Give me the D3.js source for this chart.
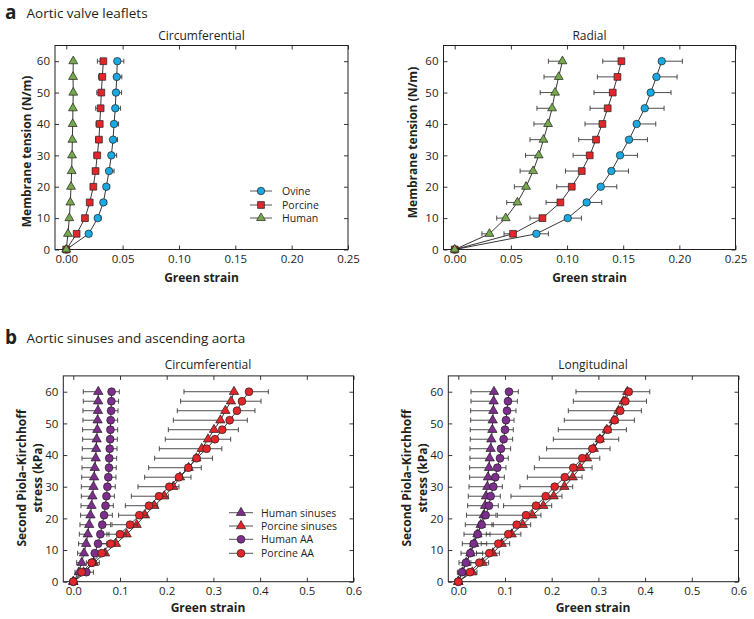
<!DOCTYPE html>
<html><head><meta charset="utf-8">
<script src="https://cdnjs.cloudflare.com/ajax/libs/d3/7.8.5/d3.min.js"></script>
<style>
body{margin:0;background:#fff}
svg{display:block}
text{font-family:"Open Sans",sans-serif;fill:#231f20}
</style>
</head><body>
<script>
// ---------- Panel a : aortic valve leaflets ----------
const tensionA = [0,5,10,15,20,25,30,35,40,45,50,55,60];
const xTicksA = [0,0.05,0.10,0.15,0.20,0.25];
const yTicks = [0,10,20,30,40,50,60];

const circOvine   = [0,0.0199,0.0279,0.0329,0.0355,0.038,0.040,0.0415,0.0424,0.0435,0.0441,0.0448,0.0453];
const circOvineHi = [0,0.0219,0.0309,0.0359,0.0385,0.0424,0.0447,0.0455,0.0464,0.0482,0.0491,0.0493,0.0511];
const circPorcine   = [0,0.0092,0.0166,0.0208,0.024,0.026,0.0275,0.029,0.0297,0.0305,0.0311,0.032,0.0329];
const circPorcineLo = [0,0.0077,0.0146,0.0188,0.022,0.0235,0.0245,0.0263,0.0264,0.0261,0.0271,0.0287,0.0276];
const circHuman   = [0,0.0015,0.0027,0.0036,0.0042,0.0048,0.0051,0.0054,0.0057,0.0059,0.0062,0.006,0.0062];
const circHumanLo = [0,0.0008,0.0019,0.0027,0.0033,0.0038,0.0041,0.0044,0.0046,0.0048,0.005,0.0049,0.005];

const radOvine   = [0,0.0727,0.1006,0.1175,0.13,0.1395,0.1472,0.1552,0.162,0.1692,0.1745,0.1796,0.1843];
const radOvineHi = [0,0.0834,0.1128,0.1309,0.1443,0.1547,0.1627,0.1716,0.179,0.1864,0.1926,0.198,0.2027];
const radPorcine   = [0,0.0519,0.0781,0.0941,0.1042,0.1131,0.1202,0.1258,0.1315,0.1362,0.1407,0.1449,0.1484];
const radPorcineLo = [0,0.0439,0.067,0.0813,0.0908,0.0986,0.1054,0.1104,0.116,0.1205,0.124,0.127,0.1318];
const radHuman   = [0,0.0309,0.0454,0.0558,0.0635,0.0698,0.0748,0.079,0.0831,0.0867,0.0893,0.0926,0.0959];
const radHumanLo = [0,0.0242,0.0374,0.0463,0.0531,0.0582,0.063,0.067,0.0705,0.0732,0.0761,0.0795,0.0834];

// ---------- Panel b : aortic sinuses and ascending aorta ----------
const stressB = [0,3,6,9,12,15,18,21,24,27,30,33,36,39,42,45,48,51,54,57,60];
const xTicksB = [0,0.1,0.2,0.3,0.4,0.5,0.6];

const cHumSin   = [0,0.012,0.018,0.0229,0.0276,0.031,0.034,0.0368,0.039,0.041,0.0432,0.0446,0.046,0.048,0.049,0.050,0.0514,0.052,0.0528,0.0532,0.0535];
const cHumSinLo = [0,0.0036,0.0072,0.0093,0.0114,0.0129,0.0143,0.0157,0.0165,0.0172,0.0172,0.018,0.0186,0.0186,0.0193,0.02,0.02,0.0207,0.0207,0.0214,0.0214];
const cPorSin   = [0,0.022,0.044,0.068,0.0914,0.1142,0.1357,0.1535,0.1735,0.195,0.214,0.2285,0.247,0.2635,0.275,0.2885,0.3013,0.315,0.3256,0.3377,0.3441];
const cPorSinLo = [0,0.012,0.028,0.044,0.058,0.072,0.0828,0.097,0.1114,0.1243,0.1385,0.1528,0.1614,0.1742,0.1842,0.197,0.2035,0.2142,0.2227,0.2298,0.237];
const cHumAA    = [0,0.028,0.040,0.046,0.053,0.058,0.062,0.066,0.069,0.071,0.073,0.075,0.0765,0.077,0.078,0.079,0.0795,0.080,0.081,0.0815,0.082];
const cHumAAHi  = [0,0.043,0.0557,0.0643,0.0714,0.0764,0.08,0.0836,0.0857,0.0879,0.09,0.0914,0.092,0.0929,0.0936,0.0943,0.095,0.095,0.0957,0.097,0.0985];
const cPorAA    = [0,0.0178,0.0393,0.0607,0.08,0.1,0.1214,0.1414,0.162,0.1835,0.2056,0.2263,0.2463,0.264,0.2855,0.3034,0.319,0.3348,0.3505,0.3612,0.3762];
const cPorAAHi  = [0,0.025,0.049,0.072,0.09,0.113,0.137,0.1585,0.1806,0.2035,0.2263,0.252,0.274,0.298,0.318,0.337,0.3535,0.3726,0.389,0.402,0.4176];

const lHumSin   = [0,0.009,0.017,0.026,0.034,0.041,0.048,0.0543,0.0572,0.0593,0.0622,0.0636,0.0657,0.0672,0.0693,0.0707,0.0729,0.0736,0.075,0.0757,0.0764];
const lHumSinLo = [0,-0.002,0.0015,0.0058,0.0086,0.0122,0.015,0.0175,0.02,0.0214,0.0229,0.0243,0.0243,0.025,0.025,0.0257,0.0257,0.0265,0.0265,0.0272,0.0272];
const lPorSin   = [0,0.03,0.052,0.074,0.0929,0.1143,0.138,0.1586,0.1821,0.2043,0.2271,0.245,0.2607,0.2757,0.29,0.303,0.318,0.333,0.343,0.354,0.362];
const lPorSinLo = [0,0.015,0.027,0.039,0.049,0.06,0.072,0.0836,0.097,0.1128,0.132,0.1478,0.1628,0.1735,0.1892,0.2035,0.2142,0.227,0.2356,0.2463,0.252];
const lHumAA    = [0,0.0079,0.0164,0.0257,0.0329,0.0414,0.05,0.0586,0.0657,0.0693,0.075,0.0793,0.0836,0.0893,0.0914,0.0971,0.1,0.1021,0.1043,0.1064,0.1086];
const lHumAAHi  = [0,0.0307,0.0407,0.0521,0.0607,0.0679,0.075,0.0807,0.0857,0.09,0.0943,0.0986,0.1021,0.1071,0.1121,0.1164,0.1178,0.1193,0.1235,0.1264,0.1285];
const lPorAA    = [0,0.025,0.045,0.0664,0.0857,0.1071,0.125,0.145,0.1664,0.1871,0.2064,0.228,0.2463,0.2656,0.2871,0.3035,0.3199,0.3349,0.3469,0.3578,0.3649];
const lPorAAHi  = [0,0.04,0.065,0.088,0.11,0.134,0.155,0.177,0.2,0.222,0.245,0.265,0.2865,0.303,0.325,0.3435,0.36,0.377,0.392,0.403,0.41];

const colBlue = "#1aa9e1", colRed = "#e4262b", colGreen = "#75a94b", colPurple = "#7e2f8e";

const svg = d3.select("body").append("svg").attr("width",754).attr("height",619);

function makePanel(o){
  const x = d3.scaleLinear().domain(o.xd).range([o.l,o.r]);
  const y = d3.scaleLinear().domain([0,65]).range([o.b,o.t]);
  const g = svg.append("g");
  const fmt = o.fmt;
  const ax = (gen, tx, ty, labels, pad) => {
    const a = g.append("g").attr("transform",`translate(${tx},${ty})`)
      .call(gen.tickSizeInner(-4).tickSizeOuter(0).tickPadding(pad));
    if(!labels) a.selectAll("text").remove();
    a.select(".domain").remove();
    a.selectAll("line").attr("stroke","#231f20").attr("stroke-width",0.9);
    a.selectAll("text").style("font-size","11.5px").style("font-family",'"Open Sans",sans-serif').attr("fill","#231f20");
    return a;
  };
  ax(d3.axisBottom(x).tickValues(o.xt).tickFormat(fmt), 0, o.b, true, 5);
  ax(d3.axisTop(x).tickValues(o.xt), 0, o.t, false, 0);
  ax(d3.axisLeft(y).tickValues(yTicks).tickFormat(d3.format("d")), o.l, 0, true, 5);
  ax(d3.axisRight(y).tickValues(yTicks), o.r, 0, false, 0);
  g.append("rect").attr("x",o.l).attr("y",o.t).attr("width",o.r-o.l).attr("height",o.b-o.t)
    .attr("fill","none").attr("stroke","#231f20").attr("stroke-width",1);
  return {g,x,y};
}

function symbolPath(shape, size){
  if(shape==="circle") return d3.symbol(d3.symbolCircle, size)();
  if(shape==="square") return d3.symbol(d3.symbolSquare, size)();
  return d3.symbol(d3.symbolTriangle, size)();
}

function drawSeries(p, ys, xs, ends, shape, color, size){
  const pts = ys.map((v,i)=>({y:v, x:xs[i], e:ends[i]}));
  const eg = p.g.append("g");
  pts.filter(d=>d.y>0).forEach(d=>{
    eg.append("line").attr("x1",p.x(d.x)).attr("x2",p.x(d.e)).attr("y1",p.y(d.y)).attr("y2",p.y(d.y))
      .attr("stroke","#3a3a3a").attr("stroke-width",0.9);
    eg.append("line").attr("x1",p.x(d.e)).attr("x2",p.x(d.e)).attr("y1",p.y(d.y)-2.5).attr("y2",p.y(d.y)+2.5)
      .attr("stroke","#3a3a3a").attr("stroke-width",0.9);
  });
  p.g.append("path").datum(pts)
    .attr("d", d3.line().x(d=>p.x(d.x)).y(d=>p.y(d.y)))
    .attr("fill","none").attr("stroke","#231f20").attr("stroke-width",0.9);
  p.g.append("g").selectAll("path").data(pts).join("path")
    .attr("d", symbolPath(shape,size))
    .attr("transform", d=>`translate(${p.x(d.x)},${p.y(d.y)})`)
    .attr("fill",color).attr("stroke","#231f20").attr("stroke-width",0.7);
}

function txt(x,y,s,opts={}){
  const t = svg.append("text").attr("x",x).attr("y",y).text(s)
    .style("font-size",(opts.size||12)+"px")
    .style("font-weight",opts.bold?"700":"400")
    .attr("text-anchor",opts.anchor||"start");
  if(opts.rotate) t.attr("transform",`rotate(-90,${x},${y})`);
  return t;
}

function legend(x0, x1, xm, xt, ys, items){
  items.forEach((it,i)=>{
    const yy = ys[i];
    svg.append("line").attr("x1",x0).attr("x2",x1).attr("y1",yy).attr("y2",yy)
      .attr("stroke","#555").attr("stroke-width",1);
    svg.append("path").attr("d",symbolPath(it.shape,it.size)).attr("transform",`translate(${xm},${yy})`)
      .attr("fill",it.color).attr("stroke","#231f20").attr("stroke-width",0.7);
    txt(xt, yy+3.8, it.label, {size:10.5});
  });
}

// headings
txt(5,18.5,"a",{size:19,bold:true});
txt(26.5,18.3,"Aortic valve leaflets",{size:13.5});
txt(5,343.5,"b",{size:19,bold:true});
txt(26.5,342.5,"Aortic sinuses and ascending aorta",{size:13.5});

// ---- a, circumferential
const fA = d3.format(".2f");
const pA1 = makePanel({xd:[-0.01,0.25], l:55, r:348, t:45.5, b:249.5, xt:xTicksA, fmt:fA});
drawSeries(pA1, tensionA, circOvine, circOvineHi, "circle", colBlue, 44);
drawSeries(pA1, tensionA, circPorcine, circPorcineLo, "square", colRed, 46);
drawSeries(pA1, tensionA, circHuman, circHumanLo, "triangle", colGreen, 34);
txt(201.5,40,"Circumferential",{size:12,anchor:"middle"});
txt(30.5,151.5,"Membrane tension (N/m)",{size:12,bold:true,anchor:"middle",rotate:true});
txt(201.5,281.5,"Green strain",{size:12,bold:true,anchor:"middle"});
legend(250,272,261,282,[191,205,218],[
  {label:"Ovine",shape:"circle",color:colBlue,size:44},
  {label:"Porcine",shape:"square",color:colRed,size:46},
  {label:"Human",shape:"triangle",color:colGreen,size:34}]);

// ---- a, radial
const pA2 = makePanel({xd:[-0.01,0.25], l:443.5, r:735.5, t:45.5, b:249.5, xt:xTicksA, fmt:fA});
drawSeries(pA2, tensionA, radOvine, radOvineHi, "circle", colBlue, 44);
drawSeries(pA2, tensionA, radPorcine, radPorcineLo, "square", colRed, 46);
drawSeries(pA2, tensionA, radHuman, radHumanLo, "triangle", colGreen, 34);
txt(589.5,40,"Radial",{size:12,anchor:"middle"});
txt(416.5,142.5,"Membrane tension (N/m)",{size:12,bold:true,anchor:"middle",rotate:true});
txt(589.5,281.5,"Green strain",{size:12,bold:true,anchor:"middle"});

// ---- b, circumferential
const fB = d3.format(".1f");
const pB1 = makePanel({xd:[-0.0214,0.6], l:63.3, r:353.5, t:375.9, b:581.7, xt:xTicksB, fmt:fB});
drawSeries(pB1, stressB, cHumSin, cHumSinLo, "triangle", colPurple, 38);
drawSeries(pB1, stressB, cPorSin, cPorSinLo, "triangle", colRed, 38);
drawSeries(pB1, stressB, cHumAA, cHumAAHi, "circle", colPurple, 48);
drawSeries(pB1, stressB, cPorAA, cPorAAHi, "circle", colRed, 48);
txt(208,369,"Circumferential",{size:12,anchor:"middle"});
txt(26,478,"Second Piola–Kirchhoff",{size:12,bold:true,anchor:"middle",rotate:true});
txt(42,478,"stress (kPa)",{size:12,bold:true,anchor:"middle",rotate:true});
txt(208,612,"Green strain",{size:12,bold:true,anchor:"middle"});
legend(229,253,241,261,[512.7,526,539.3,553.3],[
  {label:"Human sinuses",shape:"triangle",color:colPurple,size:38},
  {label:"Porcine sinuses",shape:"triangle",color:colRed,size:38},
  {label:"Human AA",shape:"circle",color:colPurple,size:48},
  {label:"Porcine AA",shape:"circle",color:colRed,size:48}]);

// ---- b, longitudinal
const pB2 = makePanel({xd:[-0.0214,0.6], l:448.3, r:738.5, t:375.9, b:581.7, xt:xTicksB, fmt:fB});
drawSeries(pB2, stressB, lHumSin, lHumSinLo, "triangle", colPurple, 38);
drawSeries(pB2, stressB, lPorSin, lPorSinLo, "triangle", colRed, 38);
drawSeries(pB2, stressB, lHumAA, lHumAAHi, "circle", colPurple, 48);
drawSeries(pB2, stressB, lPorAA, lPorAAHi, "circle", colRed, 48);
txt(593,369,"Longitudinal",{size:12,anchor:"middle"});
txt(411,478,"Second Piola–Kirchhoff",{size:12,bold:true,anchor:"middle",rotate:true});
txt(427,478,"stress (kPa)",{size:12,bold:true,anchor:"middle",rotate:true});
txt(593,612,"Green strain",{size:12,bold:true,anchor:"middle"});
</script>
</body></html>
